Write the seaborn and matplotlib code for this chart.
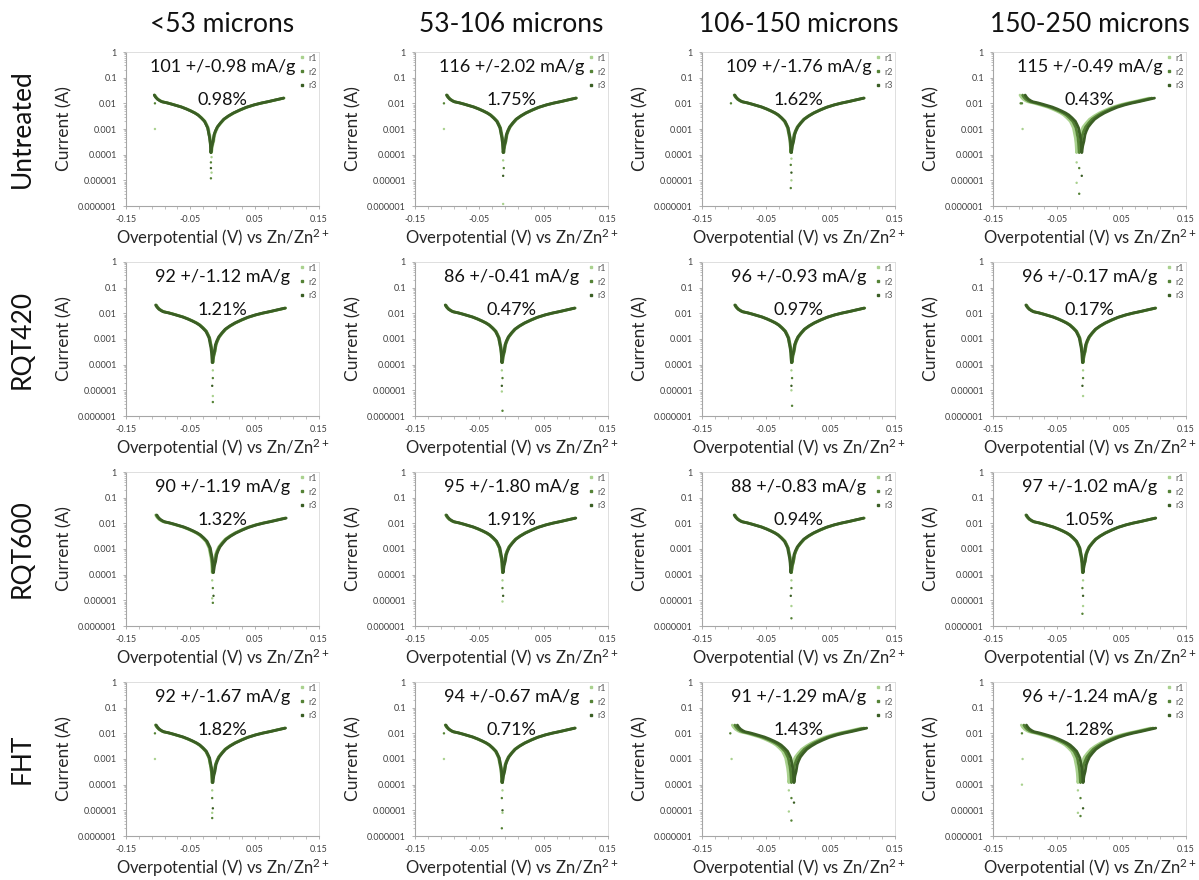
import numpy as np
import pandas as pd
import seaborn as sns
import matplotlib.pyplot as plt
from matplotlib.lines import Line2D
from matplotlib.ticker import FixedLocator, LogLocator, NullFormatter

# column / row headers
SIZES = ["<53 microns", "53-106 microns", "106-150 microns", "150-250 microns"]
TREATMENTS = ["Untreated", "RQT420", "RQT600", "FHT"]

# annotation values per panel (row = treatment, col = size)
CAPACITY = [[101, 116, 109, 115],
            [92, 86, 96, 96],
            [90, 95, 88, 97],
            [92, 94, 91, 96]]
CAP_ERR = [["0.98", "2.02", "1.76", "0.49"],
           ["1.12", "0.41", "0.93", "0.17"],
           ["1.19", "1.80", "0.83", "1.02"],
           ["1.67", "0.67", "1.29", "1.24"]]
CAP_PCT = [["0.98", "1.75", "1.62", "0.43"],
           ["1.21", "0.47", "0.97", "0.17"],
           ["1.32", "1.91", "0.94", "1.05"],
           ["1.82", "0.71", "1.43", "1.28"]]

RUNS = ["r1", "r2", "r3"]
RUN_COLORS = ["#a9d18e", "#548235", "#3a5e24"]

# polarisation curve: potential relative to the dip (V), current (A)
CURVE_DV = [-0.088, -0.086, -0.083, -0.079, -0.076, -0.068, -0.061, -0.046, -0.038,
            -0.031, -0.025, -0.020, -0.015, -0.010, -0.0075, -0.005, -0.0035, -0.002,
            -0.001, 0.0, 0.0015, 0.0033, 0.005, 0.007, 0.010, 0.0147, 0.020, 0.027,
            0.035, 0.045, 0.055, 0.067, 0.078, 0.090, 0.100, 0.113]
CURVE_I = [0.021, 0.0175, 0.0145, 0.0125, 0.0115, 0.0104, 0.0093, 0.0072, 0.006,
           0.005, 0.0042, 0.0035, 0.0027, 0.002, 0.0015, 0.0011, 0.0007, 0.00045,
           0.00028, 0.00012, 0.00022, 0.00033, 0.0006, 0.00083, 0.0012, 0.0017, 0.0024,
           0.0032, 0.0042, 0.0055, 0.007, 0.0087, 0.0102, 0.0118, 0.0135, 0.016]

# corrosion potential (dip position) of r1, r2, r3 in each panel
ECORR = [[[-0.017, -0.018, -0.018], [-0.013, -0.012, -0.013], [-0.011, -0.012, -0.011], [-0.020, -0.016, -0.012]],
         [[-0.015, -0.015, -0.016], [-0.015, -0.014, -0.015], [-0.011, -0.010, -0.011], [-0.010, -0.010, -0.011]],
         [[-0.016, -0.015, -0.014], [-0.014, -0.014, -0.013], [-0.011, -0.011, -0.012], [-0.010, -0.011, -0.010]],
         [[-0.016, -0.016, -0.015], [-0.014, -0.015, -0.014], [-0.015, -0.011, -0.007], [-0.018, -0.014, -0.010]]]

# scattered points below each dip (A), assigned to r1, r2, r3 in turn
TAILS = [[[8e-5, 5e-5, 3e-5, 2e-5, 1.2e-5], [6e-5, 3e-5, 1.5e-5, 1.2e-6], [7e-5, 4e-5, 2e-5, 1e-5, 5e-6], [5e-5, 3e-5, 1.5e-5, 8e-6, 3e-6]],
         [[6e-5, 3e-5, 1.5e-5, 6e-6, 3.5e-6], [6e-5, 3e-5, 1.5e-5, 9e-6, 1.6e-6], [6e-5, 3e-5, 1.5e-5, 1e-5, 2.5e-6], [6e-5, 3e-5, 1.5e-5, 6e-6]],
         [[6e-5, 3e-5, 1.5e-5, 1.2e-5, 8e-6], [6e-5, 3e-5, 1.5e-5, 9e-6], [6e-5, 3e-5, 1.5e-5, 6e-6, 2e-6], [6e-5, 3e-5, 1.5e-5, 6e-6, 3e-6]],
         [[6e-5, 3e-5, 1.2e-5, 8e-6, 5e-6], [6e-5, 3e-5, 1e-5, 8e-6, 2e-6], [6e-5, 3e-5, 2e-5, 9e-6, 4e-6], [6e-5, 3e-5, 1.2e-5, 8e-6, 6e-6]]]

# stray points at the scan start: (run, V, I)
STRAYS = [[[("r1", -0.105, 0.001), ("r2", -0.105, 0.01)], [("r1", -0.105, 0.001), ("r2", -0.105, 0.01)],
           [("r2", -0.105, 0.01)], [("r1", -0.104, 0.001), ("r2", -0.107, 0.01), ("r2", -0.105, 0.01)]],
          [[], [], [], []],
          [[], [], [], []],
          [[("r1", -0.105, 0.001), ("r2", -0.105, 0.01)], [("r1", -0.105, 0.001), ("r2", -0.105, 0.01)],
           [("r1", -0.104, 0.001), ("r2", -0.106, 0.01)], [("r1", -0.104, 0.001), ("r1", -0.105, 0.0001), ("r2", -0.105, 0.01)]]]

YTICKS = [1, 0.1, 0.01, 0.001, 0.0001, 0.00001, 0.000001]
YTICK_LABELS = ["1", "0.1", "0.01", "0.001", "0.0001", "0.00001", "0.000001"]
XTICKS = [-0.15, -0.05, 0.05, 0.15]
XTICK_LABELS = ["-0.15", "-0.05", "0.05", "0.15"]

sns.set_style("white")
plt.rcParams['font.family'] = ['Lato', 'DejaVu Sans']
plt.rcParams['mathtext.default'] = 'regular'

W, H = 1199, 880
fig = plt.figure(figsize=(W / 100, H / 100), dpi=100)
lefts = [126, 415, 702, 993]
tops = [52, 262, 472, 682]
aw, ah = 193, 154
palette = dict(zip(RUNS, RUN_COLORS))

for r in range(4):
    for c in range(4):
        ax = fig.add_axes([lefts[c] / W, 1 - (tops[r] + ah) / H, aw / W, ah / H])
        rows = []
        for k, run in enumerate(RUNS):
            for dv, i in zip(CURVE_DV, CURVE_I):
                rows.append({"V": ECORR[r][c][k] + dv, "I": i, "run": run})
        curve = pd.DataFrame(rows)
        pts = []
        for j, i in enumerate(TAILS[r][c]):
            k = j % 3
            pts.append({"V": ECORR[r][c][k], "I": i, "run": RUNS[k]})
        for run, v, i in STRAYS[r][c]:
            pts.append({"V": v, "I": i, "run": run})
        pts = pd.DataFrame(pts)

        sns.lineplot(data=curve, x="V", y="I", hue="run", palette=palette,
                     estimator=None, sort=False, linewidth=2.0, legend=False, ax=ax)
        sns.scatterplot(data=pts, x="V", y="I", hue="run", palette=palette,
                        s=3, linewidth=0, legend=False, ax=ax)

        ax.set_yscale("log")
        ax.set_ylim(1e-6, 1)
        ax.set_xlim(-0.15, 0.15)
        ax.set_yticks(YTICKS)
        ax.set_yticklabels(YTICK_LABELS)
        ax.yaxis.set_minor_locator(LogLocator(base=10, subs=np.arange(2, 10)))
        ax.yaxis.set_minor_formatter(NullFormatter())
        ax.set_xticks(XTICKS)
        ax.set_xticklabels(XTICK_LABELS)
        ax.xaxis.set_minor_locator(FixedLocator(np.arange(-0.15, 0.151, 0.02)))
        ax.tick_params(axis="both", which="major", labelsize=6.5, labelcolor="#404040",
                       color="#a6a6a6", length=2.5, width=0.6, pad=4, direction="out")
        ax.tick_params(axis="both", which="minor", color="#a6a6a6", length=1.8,
                       width=0.5, direction="out")
        ax.tick_params(left=True, bottom=True, which="both")
        for side in ["left", "bottom"]:
            ax.spines[side].set_color("#a6a6a6")
            ax.spines[side].set_linewidth(0.8)
        for side in ["top", "right"]:
            ax.spines[side].set_color("#d9d9d9")
            ax.spines[side].set_linewidth(0.6)

        ax.set_xlabel(r"Overpotential (V) vs Zn/Zn$^{2+}$", fontsize=12, color="#262626", labelpad=2)
        ax.set_ylabel("Current (A)", fontsize=12.5, color="#262626", labelpad=4)

        ax.text(0.5, 0.903, "{} +/-{} mA/g".format(CAPACITY[r][c], CAP_ERR[r][c]),
                transform=ax.transAxes, ha="center", va="center", fontsize=13, color="#111111")
        ax.text(0.5, 0.69, "{}%".format(CAP_PCT[r][c]),
                transform=ax.transAxes, ha="center", va="center", fontsize=13, color="#111111")

        handles = [Line2D([], [], marker="s", linestyle="", markersize=1.8,
                          color=col, label=run) for run, col in zip(RUNS, RUN_COLORS)]
        ax.legend(handles=handles, loc="upper left", bbox_to_anchor=(0.9, 0.99),
                  frameon=False, fontsize=6.5, handlelength=0.6, handletextpad=0.4,
                  labelspacing=0.55, borderpad=0, borderaxespad=0, labelcolor="#595959")

for c, title in enumerate(SIZES):
    fig.text((lefts[c] + aw / 2) / W, 1 - 24 / H, title, ha="center", va="center",
             fontsize=19, color="#111111")
for r, name in enumerate(TREATMENTS):
    fig.text(22 / W, 1 - (tops[r] + ah / 2) / H, name, ha="center", va="center",
             rotation=90, fontsize=19, color="#111111")

fig.savefig("out.png", dpi=100)
